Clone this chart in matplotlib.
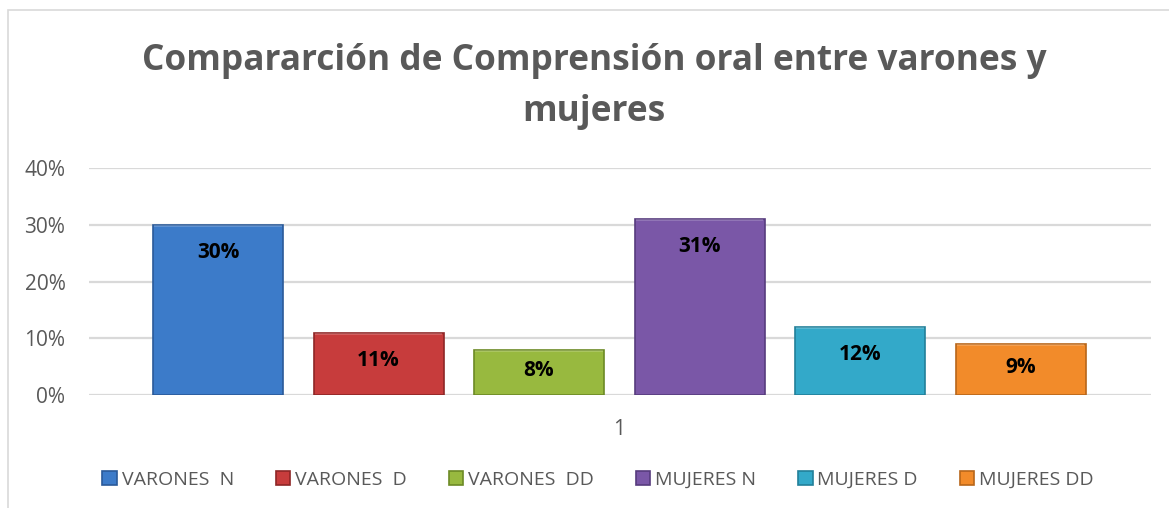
import matplotlib
matplotlib.use("Agg")
import matplotlib.pyplot as plt
from matplotlib.patches import Rectangle
import numpy as np

# ---- data ----
series = ["VARONES  N", "VARONES  D", "VARONES  DD", "MUJERES N", "MUJERES D", "MUJERES DD"]
values = [30, 11, 8, 31, 12, 9]
labels = ["30%", "11%", "8%", "31%", "12%", "9%"]
category = ["1"]
y_ticks = [0, 10, 20, 30, 40]
y_tick_labels = ["0%", "10%", "20%", "30%", "40%"]
title = "Compararción de Comprensión oral entre varones y\nmujeres"

colors = ["#3C7BC9", "#C73C3C", "#98B93F", "#7A57A7", "#33A9C9", "#F28B2A"]
edges = ["#2A5A99", "#8E2626", "#6C8A25", "#573C7E", "#22809A", "#B8661A"]

W, H = 1169, 508
fig = plt.figure(figsize=(W / 100, H / 100), dpi=100)
fig.patch.set_facecolor("white")

# outer chart frame
fig.add_artist(Rectangle((8 / W, -0.2), 1.5, (H - 10) / H + 0.2, transform=fig.transFigure,
                         fill=False, edgecolor="#D9D9D9", linewidth=1.2))

ax = fig.add_axes([89 / W, (H - 395) / H, (1151 - 89) / W, (395 - 168) / H])
ax.set_facecolor("none")

x = np.arange(len(values))
bw = 0.81
for i, (v, c, e, s) in enumerate(zip(values, colors, edges, series)):
    ax.bar(x[i], v, width=bw, color=c, edgecolor=e, linewidth=1.2, label=s, zorder=3)
    # subtle bevel on top
    ax.bar(x[i], 0.35, bottom=v - 0.35, width=bw * 0.98, color="white", alpha=0.18,
           linewidth=0, zorder=4)

for i, (v, lab) in enumerate(zip(values, labels)):
    ypos = max(v - 4.9, v / 2 + 0.4)
    ax.text(x[i], ypos, lab, ha="center", va="center", fontsize=15, fontweight="bold",
            family="Open Sans", color="black", zorder=5)

ax.set_ylim(0, 40)
ax.set_xlim(-0.804, 5.813)
ax.set_yticks(y_ticks)
ax.set_yticklabels(y_tick_labels)
ax.set_xticks([np.mean(x)])
ax.set_xticklabels(category)
ax.yaxis.grid(True, color="#D9D9D9", linewidth=1.6, zorder=0)
ax.set_axisbelow(True)
for sp in ax.spines.values():
    sp.set_visible(False)
ax.tick_params(axis="both", length=0, labelsize=15, labelcolor="#595959")
ax.tick_params(axis="y", pad=17)
ax.tick_params(axis="x", pad=17)
for t in ax.get_xticklabels() + ax.get_yticklabels():
    t.set_family("Open Sans")

fig.text(594 / W, 1 - 43 / H, title, ha="center", va="top", fontsize=25.4, fontweight="bold",
         family="Open Sans", color="#595959", linespacing=1.55)

leg = fig.legend(loc="center", bbox_to_anchor=(598 / W, 1 - 480 / H), ncol=6, frameon=False,
                 handlelength=0.75, handleheight=0.75, handletextpad=0.25, columnspacing=2.15,
                 prop={"family": "Open Sans", "size": 14})
for t in leg.get_texts():
    t.set_color("#595959")

fig.savefig("out.png", dpi=100, facecolor="white")
